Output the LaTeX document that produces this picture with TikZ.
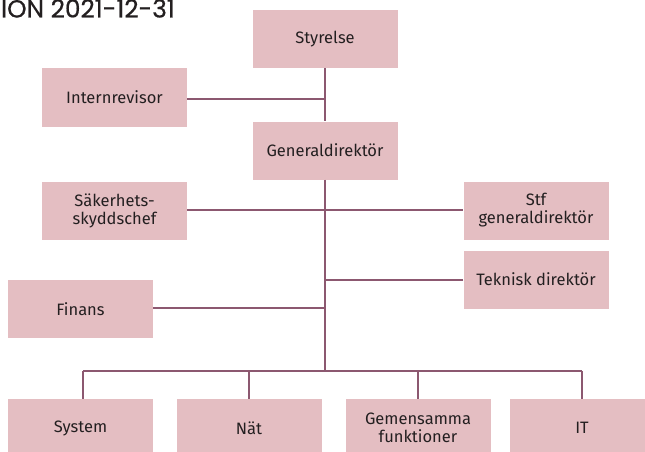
\documentclass[tikz,border=0pt]{standalone}
\usepackage{fontspec}
\setmainfont{Fira Sans}
\newfontfamily\titlefont[FakeBold=0.6]{Poppins}
\definecolor{boxpink}{RGB}{228,190,194}
\definecolor{linecol}{RGB}{140,88,112}
\definecolor{txt}{RGB}{35,31,32}
\begin{document}
\begin{tikzpicture}[x=1pt,y=-1pt,
  orgbox/.style={fill=boxpink,draw=none,minimum width=145pt,minimum height=58pt,
    inner sep=0pt,align=center,text=txt,font=\fontsize{16.5}{18}\selectfont},
  conn/.style={draw=linecol,line width=1.2pt}]
\useasboundingbox (0,0) rectangle (645,452);
\clip (0,0) rectangle (645,452);
\node[anchor=base east,text=txt,font=\titlefont\fontsize{24.8}{27}\selectfont,inner sep=0pt] (title) at (175,17.5) {ION 2021-12-31};
\node[orgbox] (sty) at (325,39) {Styrelse};
\node[orgbox] (int) at (114.5,97.5) {Internrevisor};
\node[orgbox] (gd) at (325,150.5) {Generaldirektör};
\node[orgbox] (sak) at (114.5,210.5) {Säkerhets-\\skyddschef};
\node[orgbox] (stf) at (536,210.5) {Stf\\generaldirektör};
\node[orgbox] (tek) at (536,279.5) {Teknisk direktör};
\node[orgbox] (fin) at (80.5,309) {Finans};
\node[orgbox] (sys) at (80.5,428) {System};
\node[orgbox] (nat) at (249,428) {Nät};
\node[orgbox] (gem) at (418,428) {Gemensamma\\funktioner};
\node[orgbox] (it) at (582,428) {IT};
\coordinate (jint) at (325,99);
\coordinate (jtek) at (325,280);
\coordinate (jfin) at (325,308);
\coordinate (bus) at (325,371);
\coordinate (bsys) at (83,371);
\coordinate (bnat) at (249,371);
\coordinate (bgem) at (418,371);
\coordinate (bit) at (582,371);
\draw[conn] (sty.south) -- (gd.north);
\draw[conn] (int.east |- jint) -- (jint);
\draw[conn] (gd.south) -- (bus);
\draw[conn] (sak.east |- 0,210) -- (stf.west |- 0,210);
\draw[conn] (tek.west |- jtek) -- (jtek);
\draw[conn] (fin.east |- jfin) -- (jfin);
\draw[conn] (bsys) -- (bit);
\draw[conn] (bsys) -- (bsys |- sys.north);
\draw[conn] (bnat) -- (nat.north);
\draw[conn] (bgem) -- (gem.north);
\draw[conn] (bit) -- (it.north);
\end{tikzpicture}
\end{document}
